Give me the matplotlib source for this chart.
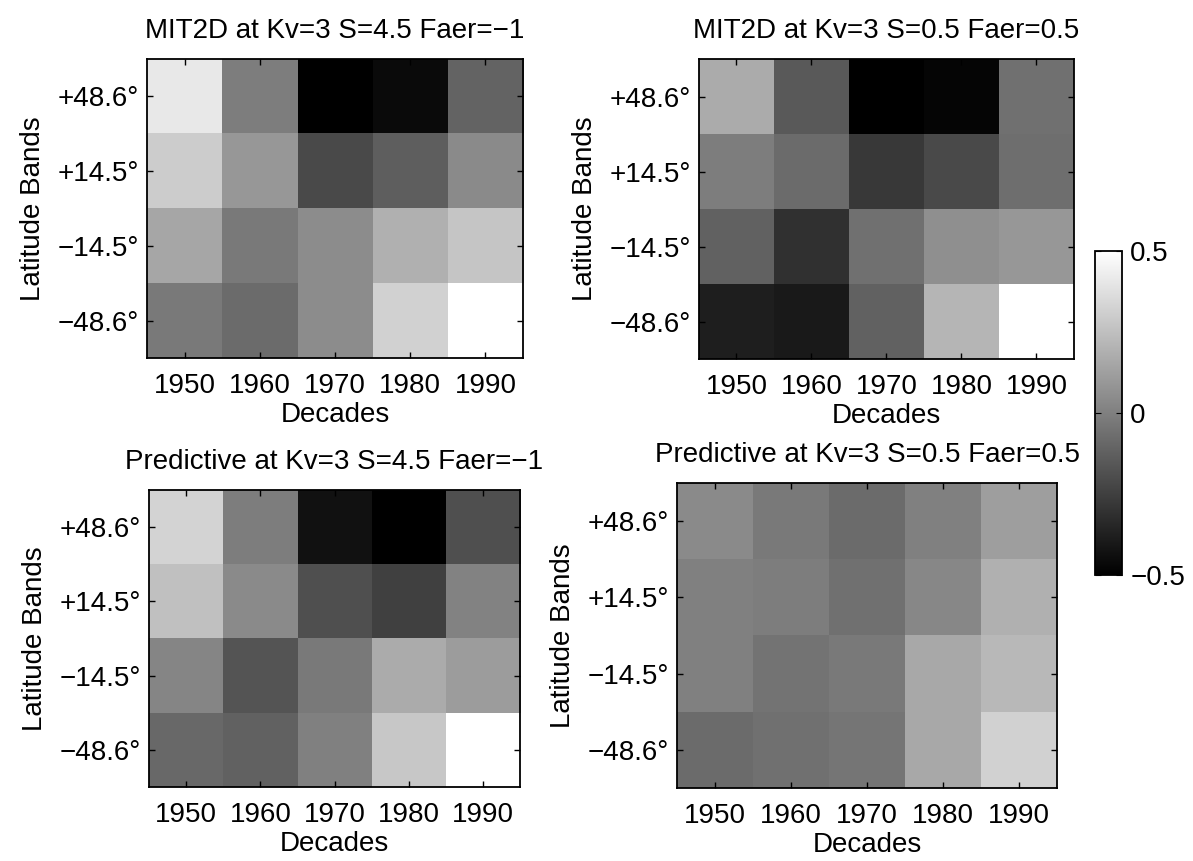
import numpy as np
import matplotlib
matplotlib.use('Agg')
import matplotlib.pyplot as plt

plt.rcParams['font.family'] = ['Liberation Sans', 'DejaVu Sans']
plt.rcParams['font.size'] = 20

#decades on x, latitude bands on y (top to bottom)
decades = [1950, 1960, 1970, 1980, 1990]
lat_labels = ['+48.6\u00b0', '+14.5\u00b0', '\u221214.5\u00b0', '\u221248.6\u00b0']

mit_s45 = [[0.41, -0.01, -0.50, -0.46, -0.11],
           [0.30, 0.09, -0.21, -0.13, 0.04],
           [0.15, -0.02, 0.05, 0.19, 0.27],
           [-0.02, -0.08, 0.05, 0.32, 0.50]]
mit_s05 = [[0.17, -0.15, -0.50, -0.48, -0.06],
           [-0.01, -0.08, -0.28, -0.21, -0.07],
           [-0.12, -0.31, -0.06, 0.06, 0.09],
           [-0.38, -0.40, -0.12, 0.21, 0.50]]
pred_s45 = [[0.33, -0.01, -0.43, -0.50, -0.19],
            [0.25, 0.04, -0.19, -0.25, 0.01],
            [0.02, -0.17, -0.02, 0.17, 0.11],
            [-0.09, -0.12, 0.00, 0.28, 0.50]]
pred_s05 = [[0.04, -0.02, -0.08, 0.00, 0.12],
            [0.00, -0.01, -0.06, 0.03, 0.19],
            [0.00, -0.05, -0.02, 0.16, 0.22],
            [-0.08, -0.06, -0.04, 0.16, 0.32]]

titles = ['MIT2D at Kv=3 S=4.5 Faer=\u22121',
          'MIT2D at Kv=3 S=0.5 Faer=0.5',
          'Predictive at Kv=3 S=4.5 Faer=\u22121',
          'Predictive at Kv=3 S=0.5 Faer=0.5']
panels = [mit_s45, mit_s05, pred_s45, pred_s05]

#axes boxes in figure fractions
boxes = [[0.1232, 0.5842, 0.3152, 0.3473],
         [0.5859, 0.5830, 0.3143, 0.3484],
         [0.1249, 0.0859, 0.3110, 0.3449],
         [0.5675, 0.0848, 0.3185, 0.3542]]

fig = plt.figure(figsize=(11.93, 8.61), dpi=100)

for data, title, box in zip(panels, titles, boxes):
    ax = fig.add_axes(box)
    im = ax.imshow(np.array(data), cmap='gray', vmin=-0.5, vmax=0.5,
                   aspect='auto', interpolation='nearest',
                   extent=[decades[0] - 5, decades[-1] + 5, len(lat_labels) - 0.5, -0.5])
    ax.set_xticks(decades)
    ax.set_xticklabels([str(d) for d in decades])
    ax.set_yticks(range(len(lat_labels)))
    ax.set_yticklabels(lat_labels)
    ax.tick_params(direction='in', top=True, right=True, length=4, width=1)
    ax.tick_params(axis='x', pad=11)
    ax.tick_params(axis='y', pad=6)
    for s in ax.spines.values():
        s.set_linewidth(1.3)
    ax.set_title(title, fontsize=20, pad=15)
    ax.set_xlabel('Decades', labelpad=2)
    ax.set_ylabel('Latitude Bands', labelpad=8)

#colorbar
cax = fig.add_axes([0.9179, 0.3322, 0.0226, 0.3763])
cb = fig.colorbar(im, cax=cax, ticks=[-0.5, 0, 0.5])
cb.ax.set_yticklabels(['\u22120.5', '0', '0.5'])
cb.ax.tick_params(direction='in', left=True, right=True, length=4, pad=6)
cb.outline.set_linewidth(1.3)

fig.savefig('out.png', dpi=100)
